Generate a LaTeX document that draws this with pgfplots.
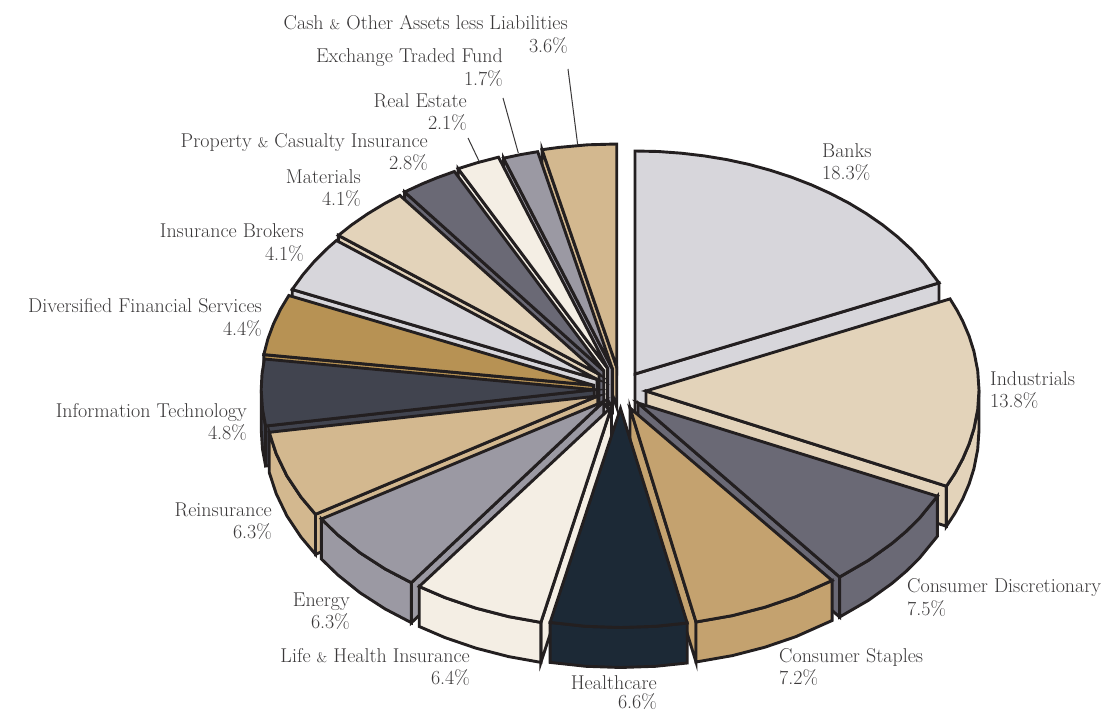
\documentclass[border=0pt]{standalone}
\usepackage{pgfplots}
\pgfplotsset{compat=1.18}
\definecolor{ink}{HTML}{231F20}
\definecolor{txt}{HTML}{3A3839}
\definecolor{cGrey}{HTML}{D7D6DB}
\definecolor{cSand}{HTML}{E3D3BA}
\definecolor{cSlate}{HTML}{6A6975}
\definecolor{cOchre}{HTML}{C4A26F}
\definecolor{cNavy}{HTML}{1C2936}
\definecolor{cCream}{HTML}{F4EEE4}
\definecolor{cSteel}{HTML}{9B99A3}
\definecolor{cTan}{HTML}{D3B88F}
\definecolor{cCharcoal}{HTML}{41444F}
\definecolor{cBronze}{HTML}{B79254}
\newcommand{\amp}{{\fontsize{14}{14}\selectfont\&}}
% one label line: x, baseline y, anchor, text
\newcommand{\lab}[4]{\node[anchor=base #3,inner sep=0pt,text=txt] at (axis cs:#1,#2) {\fontsize{20}{22}\selectfont #4};}
\begin{document}
\begin{tikzpicture}
\begin{axis}[
  scale only axis, width=1118pt, height=711pt,
  xmin=0, xmax=1118, ymin=0, ymax=711, y dir=reverse,
  hide axis, clip=false, no markers,
  every axis plot/.append style={draw=ink, line width=2.9pt, line join=miter, miter limit=10},
]
% --- right side, back to front ---
% Banks
\addplot[fill=cGrey] coordinates {(635,374)(939,282.9)(939,322.9)(635,414)} --cycle;
\addplot[fill=cGrey] coordinates {(635,374)(635,151)(658.2,151.5)(681.4,153.2)(704.2,155.9)(726.8,159.6)(748.9,164.4)(770.4,170.3)(791.3,177.1)(811.5,184.9)(830.7,193.6)(849.1,203.2)(866.3,213.6)(882.5,224.8)(897.4,236.7)(911.1,249.3)(923.4,262.5)(939,282.9)} --cycle;
% Industrials
\addplot[fill=cSand] coordinates {(646,391)(946.4,486.2)(946.4,526.2)(646,431)} --cycle;
\addplot[fill=cSand] coordinates {(979,390)(977.7,409.4)(973.9,428.7)(969.1,443.9)(962.7,458.9)(954.8,473.5)(946.4,486.2)(946.4,526.2)(954.8,513.5)(962.7,498.9)(969.1,483.9)(973.9,468.7)(977.7,449.4)(979,430)} --cycle;
\addplot[fill=cSand] coordinates {(646,391)(950,298.9)(956.9,310.1)(962.7,321.1)(969.1,336.1)(973.9,351.3)(977.7,370.6)(979,390)(977.7,409.4)(973.9,428.7)(969.1,443.9)(962.7,458.9)(954.8,473.5)(946.4,486.2)} --cycle;
% Consumer Discretionary
\addplot[fill=cSlate] coordinates {(638,403)(839.6,577)(839.6,617)(638,443)} --cycle;
\addplot[fill=cSlate] coordinates {(937.4,496.2)(919.4,518.2)(906.4,531.1)(892.1,543.3)(868.3,560.4)(839.6,577)(839.6,617)(868.3,600.4)(892.1,583.3)(906.4,571.1)(919.4,558.2)(937.4,536.2)} --cycle;
\addplot[fill=cSlate] coordinates {(638,403)(937.4,496.2)(919.4,518.2)(906.4,531.1)(892.1,543.3)(868.3,560.4)(839.6,577)} --cycle;
% Consumer Staples
\addplot[fill=cOchre] coordinates {(630,408)(696,622)(696,662)(630,448)} --cycle;
\addplot[fill=cOchre] coordinates {(832.1,580.5)(796,596.6)(764.9,607.2)(732.4,615.6)(696,622)(696,662)(732.4,655.6)(764.9,647.2)(796,636.6)(832.1,620.5)} --cycle;
\addplot[fill=cOchre] coordinates {(630,408)(832.1,580.5)(796,596.6)(764.9,607.2)(732.4,615.6)(696,622)} --cycle;
% --- left side, back to front ---
% Cash & Other Assets less Liabilities
\addplot[fill=cTan] coordinates {(616.7,367)(542,149.7)(542,189.7)(616.7,407)} --cycle;
\addplot[fill=cTan] coordinates {(616.7,367)(542,149.7)(558.9,147.4)(587.7,144.8)(616.7,144)} --cycle;
% Exchange Traded Fund
\addplot[fill=cSteel] coordinates {(612.4,369)(503.5,158.2)(503.5,198.2)(612.4,409)} --cycle;
\addplot[fill=cSteel] coordinates {(612.4,369)(503.5,158.2)(520.6,154.6)(537.7,151.7)} --cycle;
% Real Estate
\addplot[fill=cCream] coordinates {(607.4,368)(458.1,168.7)(458.1,208.7)(607.4,408)} --cycle;
\addplot[fill=cCream] coordinates {(607.4,368)(458.1,168.7)(477.3,162.7)(498.5,157.2)} --cycle;
% Property & Casualty Insurance
\addplot[fill=cSlate] coordinates {(603.7,370.8)(404.6,192)(404.6,232)(603.7,410.8)} --cycle;
\addplot[fill=cSlate] coordinates {(603.7,370.8)(404.6,192)(422.3,183.8)(437.2,177.7)(454.4,171.5)} --cycle;
% Materials
\addplot[fill=cSand] coordinates {(599,374.2)(338.4,235.4)(338.4,275.4)(599,414.2)} --cycle;
\addplot[fill=cSand] coordinates {(599,374.2)(338.4,235.4)(351.5,225)(367.7,213.8)(384.9,203.4)(399.9,195.4)} --cycle;
% Insurance Brokers
\addplot[fill=cGrey] coordinates {(597,379.3)(292.2,289.5)(292.2,329.5)(597,419.3)} --cycle;
\addplot[fill=cGrey] coordinates {(597,379.3)(292.2,289.5)(303,274.6)(314.6,261.1)(327.6,248.2)(336.4,240.5)} --cycle;
% Diversified Financial Services
\addplot[fill=cBronze] coordinates {(593.6,385.3)(263.8,354.6)(263.8,394.6)(593.6,425.3)} --cycle;
\addplot[fill=cBronze] coordinates {(593.6,385.3)(263.8,354.6)(267.9,338.9)(273.5,323.8)(280.7,309)(288.8,295.5)} --cycle;
% Information Technology
\addplot[fill=cCharcoal] coordinates {(594.2,389.7)(265.6,426)(265.6,466)(594.2,429.7)} --cycle;
\addplot[fill=cCharcoal] coordinates {(261.2,389.7)(262.5,409.1)(265.6,426)(265.6,466)(262.5,449.1)(261.2,429.7)} --cycle;
\addplot[fill=cCharcoal] coordinates {(594.2,389.7)(265.6,426)(262.5,409.1)(261.2,389.7)(262,374.1)(264.4,359)} --cycle;
% Reinsurance
\addplot[fill=cTan] coordinates {(597.8,396)(315.5,514.3)(315.5,554.3)(597.8,436)} --cycle;
\addplot[fill=cTan] coordinates {(315.5,514.3)(301.1,497.2)(286.9,475.9)(276.2,453.7)(269.2,432.3)(269.2,472.3)(276.2,493.7)(286.9,515.9)(301.1,537.2)(315.5,554.3)} --cycle;
\addplot[fill=cTan] coordinates {(597.8,396)(315.5,514.3)(301.1,497.2)(286.9,475.9)(276.2,453.7)(269.2,432.3)} --cycle;
% Energy
\addplot[fill=cSteel] coordinates {(603.7,401.5)(411.4,582.7)(411.4,622.7)(603.7,441.5)} --cycle;
\addplot[fill=cSteel] coordinates {(411.4,582.7)(385.2,569)(360.1,552.8)(337.8,534.9)(321.4,519)(321.4,559)(337.8,574.9)(360.1,592.8)(385.2,609)(411.4,622.7)} --cycle;
\addplot[fill=cSteel] coordinates {(603.7,401.5)(411.4,582.7)(385.2,569)(360.1,552.8)(337.8,534.9)(321.4,519)} --cycle;
% Life & Health Insurance
\addplot[fill=cCream] coordinates {(611.5,407)(540.9,622.4)(540.9,662.4)(611.5,447)} --cycle;
\addplot[fill=cCream] coordinates {(540.9,622.4)(508.6,616.6)(476.1,608.2)(445,597.6)(419.2,586.5)(419.2,626.5)(445,637.6)(476.1,648.2)(508.6,656.6)(540.9,662.4)} --cycle;
\addplot[fill=cCream] coordinates {(611.5,407)(540.9,622.4)(508.6,616.6)(476.1,608.2)(445,597.6)(419.2,586.5)} --cycle;
% Healthcare
\addplot[fill=cNavy] coordinates {(687.2,623)(655.5,626.3)(620.7,627.5)(585.9,626.3)(550.1,622.4)(550.1,662.4)(585.9,666.3)(620.7,667.5)(655.5,666.3)(687.2,663)} --cycle;
\addplot[fill=cNavy] coordinates {(620.5,408.5)(687.2,623)(655.5,626.3)(620.7,627.5)(585.9,626.3)(550.1,622.4)} --cycle;
% leader lines
\addplot[line width=1pt, draw=txt] coordinates {(568,69)(577.7,145)};
\addplot[line width=1pt, draw=txt] coordinates {(503,98)(518.3,153)};
\addplot[line width=1pt, draw=txt] coordinates {(468,138)(479,161)};
% page extent
\path (axis cs:0,0) (axis cs:1118,711);
% labels
\lab{568}{30}{east}{Cash \amp{} Other Assets less Liabilities}
\lab{568}{53}{east}{3.6\%}
\lab{503}{63}{east}{Exchange Traded Fund}
\lab{503}{86}{east}{1.7\%}
\lab{467}{108}{east}{Real Estate}
\lab{467}{130}{east}{2.1\%}
\lab{428}{148}{east}{Property \amp{} Casualty Insurance}
\lab{428}{170}{east}{2.8\%}
\lab{361}{184}{east}{Materials}
\lab{361}{206}{east}{4.1\%}
\lab{304}{238}{east}{Insurance Brokers}
\lab{304}{260}{east}{4.1\%}
\lab{262}{312}{east}{Diversified Financial Services}
\lab{262}{335}{east}{4.4\%}
\lab{247}{417}{east}{Information Technology}
\lab{247}{439}{east}{4.8\%}
\lab{272}{516}{east}{Reinsurance}
\lab{272}{538}{east}{6.3\%}
\lab{350}{606}{east}{Energy}
\lab{350}{628}{east}{6.3\%}
\lab{470}{662}{east}{Life \amp{} Health Insurance}
\lab{470}{684}{east}{6.4\%}
\lab{657}{689}{east}{Healthcare}
\lab{657}{708}{east}{6.6\%}
\lab{779}{662}{west}{Consumer Staples}
\lab{779}{684}{west}{7.2\%}
\lab{907}{592}{west}{Consumer Discretionary}
\lab{907}{615}{west}{7.5\%}
\lab{990}{385}{west}{Industrials}
\lab{990}{407}{west}{13.8\%}
\lab{822}{158}{west}{Banks}
\lab{822}{180}{west}{18.3\%}
\end{axis}
\end{tikzpicture}
\end{document}
